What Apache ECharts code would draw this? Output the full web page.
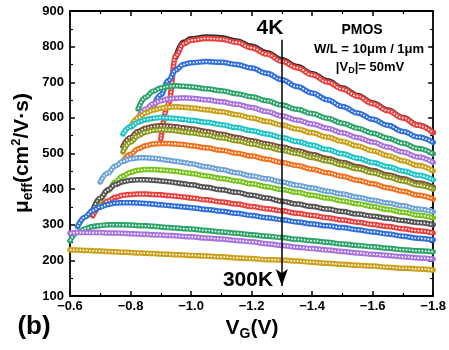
<!DOCTYPE html>
<html>
<head>
<meta charset="utf-8">
<script src="https://cdn.jsdelivr.net/npm/echarts@6/dist/echarts.min.js"></script>
<style>
html, body { margin: 0; padding: 0; background: #fff; }
#chart { width: 449px; height: 350px; }
</style>
</head>
<body>
<div id="chart"></div>
<script>
// gate voltage grid (V); finer steps where the curves rise
const VG = [-0.6, -0.625, -0.65, -0.675, -0.7, -0.725, -0.75, -0.775, -0.8, -0.825, -0.85, -0.875,
  -0.9, -0.925, -0.95, -0.975, -1.0, -1.05, -1.1, -1.15, -1.2, -1.25, -1.3, -1.35, -1.4, -1.45,
  -1.5, -1.55, -1.6, -1.65, -1.7, -1.75, -1.8];

// mobility curves, 4K (top) to 300K (bottom), null = no data yet
const N = null;
const mu01 = [N, N, N, N, N, N, N, N, N, N, N, N, N, N, 770, 812, 822, 827, 825, 816, 801, 783, 763, 744, 724, 704, 684, 663, 642, 622, 601, 580, 559];
const mu02 = [N, N, N, N, N, N, N, N, N, N, N, N, 540, 640, 775, 808, 818, 823, 821, 812, 797, 779, 759, 741, 721, 701, 681, 661, 640, 620, 600, 579, 558];
const mu03 = [N, N, N, N, N, N, N, N, N, N, N, 630, 665, 705, 735, 750, 755, 758, 756, 750, 740, 725, 707, 688, 670, 651, 632, 614, 596, 579, 562, 546, 531];
const mu04 = [N, N, N, N, N, N, N, N, N, 625, 658, 675, 684, 688, 690, 689, 687, 682, 676, 668, 659, 648, 636, 624, 612, 599, 585, 571, 557, 543, 529, 514, 499];
const mu05 = [N, N, N, N, N, N, N, N, N, 600, 625, 640, 648, 653, 655, 656, 655, 651, 645, 638, 629, 618, 605, 594, 583, 571, 558, 545, 532, 518, 504, 490, 475];
const mu06 = [N, N, N, N, N, N, N, N, 575, 600, 614, 622, 627, 630, 631, 630, 628, 623, 617, 609, 600, 590, 580, 569, 558, 546, 534, 521, 508, 494, 480, 466, 451];
const mu07 = [N, N, N, N, N, N, N, 555, 575, 588, 595, 599, 601, 600, 598, 596, 593, 588, 581, 573, 564, 555, 545, 534, 523, 511, 499, 487, 475, 463, 451, 439, 426];
const mu08 = [N, N, N, N, N, N, N, 520, 545, 562, 571, 576, 578, 577, 575, 572, 569, 562, 554, 545, 536, 527, 518, 508, 497, 486, 475, 463, 452, 440, 429, 417, 405];
const mu09 = [N, N, N, N, N, N, N, 505, 532, 550, 560, 565, 567, 566, 564, 561, 558, 552, 544, 536, 527, 518, 509, 500, 489, 479, 468, 457, 446, 434, 423, 411, 400];
const mu10 = [N, N, N, N, N, N, N, 478, 498, 513, 522, 527, 528, 528, 527, 525, 522, 516, 509, 501, 493, 484, 475, 466, 456, 446, 436, 425, 415, 404, 394, 383, 372];
const mu11 = [N, N, N, N, 420, 445, 465, 478, 485, 488, 488, 487, 484, 481, 478, 475, 471, 463, 455, 446, 437, 429, 420, 411, 403, 394, 386, 377, 369, 361, 353, 344, 336];
const mu12 = [N, N, N, N, 365, 395, 420, 437, 447, 453, 455, 455, 454, 452, 450, 447, 444, 437, 430, 423, 415, 407, 399, 391, 383, 375, 367, 359, 351, 343, 335, 327, 319];
const mu13 = [N, N, N, 340, 375, 398, 413, 421, 425, 426, 426, 425, 423, 421, 418, 415, 412, 405, 398, 391, 383, 375, 366, 358, 351, 344, 337, 330, 324, 318, 312, 306, 300];
const mu14 = [N, N, N, 325, 350, 367, 377, 383, 385, 386, 386, 385, 384, 382, 380, 378, 375, 370, 364, 358, 351, 345, 339, 332, 326, 320, 313, 307, 301, 295, 289, 283, 277];
const mu15 = [N, 295, 322, 340, 350, 357, 361, 362, 362, 361, 360, 358, 356, 354, 352, 350, 348, 343, 338, 332, 326, 320, 314, 308, 302, 297, 292, 286, 280, 274, 268, 262, 257];
const mu16 = [255, 278, 289, 295, 298, 300, 300, 300, 299, 298, 297, 296, 294, 292, 291, 289, 288, 284, 280, 276, 272, 268, 264, 259, 255, 251, 246, 242, 238, 234, 230, 227, 224];
const mu17 = [276, 278, 278, 278, 278, 277, 277, 276, 275, 274, 273, 272, 271, 270, 269, 267, 266, 263, 260, 256, 252, 247, 242, 237, 233, 229, 225, 221, 217, 214, 210, 207, 204];
const mu18 = [230, 229, 228, 227, 226, 225, 224, 223, 222, 221, 220, 219, 218, 217, 216, 215, 214, 212, 210, 207, 205, 202, 201, 198, 195, 192, 189, 186, 184, 181, 178, 176, 173];

const curves = [mu01, mu02, mu03, mu04, mu05, mu06, mu07, mu08, mu09, mu10, mu11, mu12, mu13, mu14, mu15, mu16, mu17, mu18];
const colors = ['#2b2b2b', '#e8413e', '#2e6fd8', '#2ea46a', '#a973dc', '#c9a01a', '#1fc3c8', '#7a4f3c',
  '#8c9a1f', '#f2701c', '#6fa3d8', '#7ac21e', '#555555', '#e8413e', '#2e6fd8', '#2ea46a', '#a973dc', '#c9a01a'];

const FONT = 'Liberation Sans, Arial, sans-serif';
const chart = echarts.init(document.getElementById('chart'));

let series = [];
curves.forEach((ys, i) => {
  const data = [];
  VG.forEach((x, j) => { if (ys[j] != null) data.push([x, ys[j]]); });
  // colored band, then a white dotted core to mimic the open circles
  series.push({
    type: 'line', data: data, smooth: 0.4, smoothMonotone: 'x', showSymbol: false,
    lineStyle: { color: colors[i], width: 5.5, cap: 'round' }, silent: true
  });
  series.push({
    type: 'line', data: data, smooth: 0.4, smoothMonotone: 'x', showSymbol: false,
    lineStyle: { color: '#fff', width: 1.6, type: [1.6, 1.6] }, silent: true
  });
});
// temperature arrow
series.push({
  type: 'line', data: [], silent: true,
  markLine: {
    silent: true, symbol: ['none', 'arrow'], symbolSize: [9, 17],
    lineStyle: { color: '#000', width: 1.5, type: 'solid' },
    label: { show: false },
    data: [[{ coord: [-1.3, 819] }, { coord: [-1.3, 128] }]]
  }
});

const tickLbl = {
  color: '#000', fontSize: 13, fontWeight: 'bold', fontFamily: FONT
};
const axisCommon = {
  axisLine: { onZero: false, lineStyle: { color: '#000', width: 1.8 } },
  axisTick: { inside: true, length: 5, lineStyle: { color: '#000', width: 1.5 } },
  minorTick: { show: true, splitNumber: 2, length: 3, lineStyle: { color: '#000', width: 1.2 } },
  splitLine: { show: false }
};

const option = {
  animation: false,
  grid: { left: 70, right: 14, top: 11, bottom: 54 },
  xAxis: [
    Object.assign({
      type: 'value', min: -1.8, max: -0.6, interval: 0.2, inverse: true, position: 'bottom',
      axisLabel: Object.assign({ margin: 4, formatter: v => (v < 0 ? '\u2212' : '') + Math.abs(v).toFixed(1) }, tickLbl)
    }, axisCommon),
    Object.assign({
      type: 'value', min: -1.8, max: -0.6, interval: 0.2, inverse: true, position: 'top',
      axisLabel: { show: false }
    }, axisCommon)
  ],
  yAxis: [
    Object.assign({
      type: 'value', min: 100, max: 900, interval: 100, position: 'left',
      axisLabel: Object.assign({ margin: 6 }, tickLbl)
    }, axisCommon),
    Object.assign({
      type: 'value', min: 100, max: 900, interval: 100, position: 'right',
      axisLabel: { show: false }
    }, axisCommon)
  ],
  series: series,
  graphic: [
    {
      type: 'text', x: 22, y: 153, rotation: Math.PI / 2,
      style: {
        text: '{m|\u03bc}{s|eff}{m|(cm}{p|2}{m|/V\u00b7s)}',
        align: 'center', verticalAlign: 'middle', fill: '#000',
        rich: {
          m: { fontSize: 21, fontWeight: 'bold', fontFamily: FONT },
          s: { fontSize: 14, fontWeight: 'bold', fontFamily: FONT, padding: [12, 0, 0, 0] },
          p: { fontSize: 13, fontWeight: 'bold', fontFamily: FONT, padding: [0, 0, 12, 0] }
        }
      }
    },
    {
      type: 'text', x: 252, y: 328,
      style: {
        text: '{m|V}{s|G}{m|(V)}',
        align: 'center', verticalAlign: 'middle', fill: '#000',
        rich: {
          m: { fontSize: 21, fontWeight: 'bold', fontFamily: FONT },
          s: { fontSize: 14, fontWeight: 'bold', fontFamily: FONT, padding: [12, 0, 0, 0] }
        }
      }
    },
    {
      type: 'text', x: 34, y: 327,
      style: { text: '(b)', align: 'center', verticalAlign: 'middle', fill: '#000',
        fontSize: 26, fontWeight: 'bold', fontFamily: FONT }
    },
    {
      type: 'text', x: 270, y: 28,
      style: { text: '4K', align: 'center', verticalAlign: 'middle', fill: '#000',
        fontSize: 21, fontWeight: 'bold', fontFamily: FONT }
    },
    {
      type: 'text', x: 248, y: 280,
      style: { text: '300K', align: 'center', verticalAlign: 'middle', fill: '#000',
        fontSize: 21, fontWeight: 'bold', fontFamily: FONT }
    },
    {
      type: 'text', x: 362, y: 30,
      style: { text: 'PMOS', align: 'center', verticalAlign: 'middle', fill: '#000',
        fontSize: 14, fontWeight: 'bold', fontFamily: FONT }
    },
    {
      type: 'text', x: 369, y: 49,
      style: { text: 'W/L = 10\u03bcm / 1\u03bcm', align: 'center', verticalAlign: 'middle', fill: '#000',
        fontSize: 13, fontWeight: 'bold', fontFamily: FONT }
    },
    {
      type: 'text', x: 370, y: 67,
      style: {
        text: '{m||V}{s|D}{m||= 50mV}',
        align: 'center', verticalAlign: 'middle', fill: '#000',
        rich: {
          m: { fontSize: 13, fontWeight: 'bold', fontFamily: FONT },
          s: { fontSize: 9, fontWeight: 'bold', fontFamily: FONT, padding: [7, 0, 0, 0] }
        }
      }
    }
  ]
};
chart.setOption(option);
</script>
</body>
</html>
